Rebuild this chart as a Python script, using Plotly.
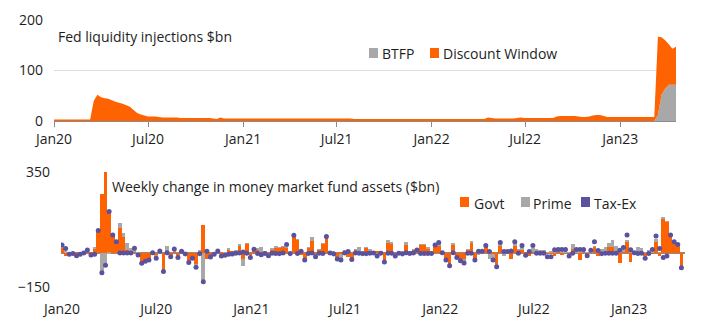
import pandas as pd
import plotly.graph_objects as go

# ---------------- data ----------------
top_dates = pd.date_range("2020-01-01", periods=173, freq="7D")
bot_dates = pd.date_range("2020-01-01", periods=172, freq="7D")

discount_window = (
    [3] * 11
    + [40, 52, 47, 45, 44, 41, 38, 36, 34, 31]
    + [28, 22, 16, 13, 11, 9, 9, 9, 8, 7]
    + [7, 7, 7, 7, 6, 6, 6, 6, 6, 6, 6, 6, 6]
    + [5, 4, 7, 5, 5, 5, 5, 5]
    + [5] * 31
    + [4] * 21
    + [4] * 16
    + [7, 6, 5, 5, 5, 5, 5, 5, 6, 7, 6]
    + [6, 6, 6, 6, 6, 6, 6, 6]
    + [9, 10, 10, 10, 10, 10, 9, 8, 8]
    + [9, 11, 12, 12, 10, 8]
    + [8] * 13
    + [155, 114, 96, 80, 71, 75]
)
btfp = [0] * 167 + [12, 52, 64, 72, 72, 72]

govt = [
    20, -15, -3, 2, -8, -4, 2, 6, -6, 18,
    90, 253, 350, 175, 72, 44, 105, 69, 10, 5,
    3, -8, -40, -30, -25, 2, -15, 2, -78, 3,
    -12, 2, -15, 2, -3, -38, -20, -50, 5, 120,
    -30, -14, -5, 3, -8, -5, 14, 3, 5, 30,
    -30, 38, -12, 8, 14, 4, 2, -5, 14, 22,
    20, 26, 20, 3, 70, 55, -12, -28, 20, 48,
    -12, 12, 38, 65, 2, 3, -22, -5, 3, -18,
    -25, 12, 4, 3, 20, 10, 2, 3, 2, -36,
    40, 40, -10, 2, 3, 33, 2, 12, 3, 33,
    33, 18, 2, 30, 30, 2, -30, -50, 35, -18,
    -32, -30, 12, 40, -28, 3, 2, 25, 2, -8,
    -50, 30, 2, 2, -30, 30, 12, 10, 2, -15,
    3, 3, 3, 2, -5, -5, -15, 3, -12, 2,
    -5, 15, 2, -33, 3, -12, 2, 25, -15, 2,
    2, 22, 22, 2, -45, 3, 47, -40, 2, 3,
    2, -15, 2, -8, 47, -15, 149, 134, 74, 38,
    25, -60,
]
prime = [
    3, 5, 2, -2, -2, -2, 1, 2, -2, 2,
    2, -82, -47, -5, 2, 1, 25, 17, 30, 15,
    10, 2, -3, -5, -3, 5, -5, 3, -2, 25,
    -3, 10, -3, 2, 1, -2, -2, -4, 2, -120,
    3, -2, 2, 2, -2, 2, 2, -2, 2, 3,
    -30, 2, -4, 2, 2, 18, 2, -3, 2, 2,
    3, 2, 3, 2, 3, 3, 2, -2, 2, 18,
    -2, 2, 2, 2, 2, 2, -2, -22, 10, 2,
    -2, 2, 18, 2, 2, 2, 2, -12, 2, -2,
    14, 2, -2, 2, 2, 14, 2, 2, 2, 2,
    3, 2, 2, 1, 10, 2, -2, -4, 2, -2,
    -2, -13, 2, 11, -2, -12, 2, 2, -28, -20,
    -2, 3, -15, 1, 2, 15, 2, 18, -10, 1,
    18, 14, 10, 8, 2, 8, 2, 3, 2, 2,
    2, 20, 4, 2, 2, 2, 2, 2, 2, 15,
    20, 18, 32, 28, 2, 4, 7, 2, 2, 22,
    16, 2, 10, 2, 10, 2, 2, 2, 1, 8,
    9, -2,
]
tax_ex = [
    10, 12, -5, -2, -4, -2, -2, 3, -3, -8,
    4, -6, -8, 3, 2, 2, -2, -2, -2, -2,
    5, -3, -4, -3, -5, -1, -5, 2, -3, -1,
    -3, 3, -4, 1, -3, -4, -3, -10, -5, -7,
    2, -4, -3, 2, -5, -7, -8, -5, -3, -2,
    2, -3, -6, 4, -4, -10, -4, -6, -3, -4,
    -5, -2, 12, -5, 2, -4, 3, -3, -4, -2,
    -4, -3, -4, 3, -2, -6, -4, -6, -2, 2,
    -3, -2, -3, -5, -5, -3, -2, -3, -3, -3,
    -3, -3, -3, -3, -6, -1, -4, -2, 6, -4,
    -4, -4, -4, 2, 3, -1, -1, -4, -1, -2,
    -2, -3, -3, -3, -3, 2, 1, 3, 2, -5,
    -10, 10, 2, 1, 4, 2, -3, 2, -2, 3,
    9, -3, -3, -3, -13, -13, 10, 7, 11, 9,
    -10, -3, 7, 11, 8, -2, 6, 20, 7, -5,
    -3, -3, -3, -3, 8, 15, 22, 10, -1, -4,
    -3, -10, -4, 11, 15, 15, -22, -15, 1, 1,
    1, -4,
]

top_yticks = [0, 100, 200]
bot_yticks = [-150, 350]
x_ticks = ["2020-01-01", "2020-07-01", "2021-01-01", "2021-07-01",
           "2022-01-01", "2022-07-01", "2023-01-01"]
x_ticktext = ["Jan20", "Jul20", "Jan21", "Jul21", "Jan22", "Jul22", "Jan23"]

# ---------------- styling ----------------
ORANGE = "#FF6200"
GREY = "#A8A8A8"
PURPLE = "#5A519F"
TXT = "#1E1E1E"
FONT = "Open Sans"
W, H = 717, 329

# Tax-Ex markers sit at the end of the (relative) stack
tax_pos = []
for g, p, t in zip(govt, prime, tax_ex):
    if t >= 0:
        tax_pos.append(max(g, 0) + max(p, 0) + t)
    else:
        tax_pos.append(min(g, 0) + min(p, 0) + t)

fig = go.Figure()
fig.add_trace(go.Scatter(x=top_dates, y=btfp, name="BTFP", stackgroup="a",
                         mode="none", fillcolor=GREY, xaxis="x", yaxis="y"))
fig.add_trace(go.Scatter(x=top_dates, y=discount_window, name="Discount Window",
                         stackgroup="a", mode="none", fillcolor=ORANGE,
                         xaxis="x", yaxis="y"))

fig.add_trace(go.Bar(x=bot_dates, y=govt, name="Govt", marker_color=ORANGE,
                     marker_line_width=0, xaxis="x2", yaxis="y2"))
fig.add_trace(go.Bar(x=bot_dates, y=prime, name="Prime", marker_color=GREY,
                     marker_line_width=0, xaxis="x2", yaxis="y2"))
fig.add_trace(go.Scatter(x=bot_dates, y=tax_pos, name="Tax-Ex", mode="markers",
                         marker=dict(color=PURPLE, size=5), customdata=tax_ex,
                         xaxis="x2", yaxis="y2"))

def px(x):
    return x / W

def py(y):
    return 1 - y / H

axis_font = dict(family=FONT, size=14, color=TXT)

fig.update_layout(
    width=W, height=H, margin=dict(l=0, r=0, t=0, b=0, autoexpand=False),
    paper_bgcolor="white", plot_bgcolor="white",
    showlegend=False, barmode="relative", bargap=0.0,
    font=dict(family=FONT, size=14, color=TXT),
    xaxis=dict(domain=[px(54), px(676)], range=["2020-01-01", "2023-04-19"],
               tickvals=x_ticks, ticktext=x_ticktext, tickfont=axis_font,
               showgrid=False, showline=True, linecolor="#8C8C8C", linewidth=1,
               ticks="outside", ticklen=5, tickcolor="#8C8C8C", anchor="y",
               zeroline=False, automargin=False),
    yaxis=dict(domain=[py(121), py(20)], range=[0, 200], tickvals=top_yticks,
               tickfont=axis_font, showgrid=True, gridcolor="#DCDCDC",
               zeroline=False, ticklabelstandoff=10, anchor="x",
               automargin=False),
    xaxis2=dict(domain=[px(61), px(685)], range=["2019-12-30", "2023-04-19"],
                tickvals=x_ticks, ticktext=x_ticktext, tickfont=axis_font,
                showgrid=False, showline=False, ticks="", anchor="y2",
                zeroline=False, automargin=False, ticklabelstandoff=12),
    yaxis2=dict(domain=[py(287), py(172)], range=[-150, 350], tickvals=bot_yticks,
                tickfont=axis_font, showgrid=True, gridcolor="#DCDCDC",
                zeroline=True, zerolinecolor="#8C8C8C", zerolinewidth=1.5,
                ticklabelstandoff=10, anchor="x2", automargin=False),
)

annos = [
    dict(text="Fed liquidity injections $bn", x=px(57), y=py(36)),
    dict(text="Weekly change in money market fund assets ($bn)", x=px(111), y=py(186)),
    dict(text="BTFP", x=px(381), y=py(53)),
    dict(text="Discount Window", x=px(442), y=py(53)),
    dict(text="Govt", x=px(473), y=py(203)),
    dict(text="Prime", x=px(532), y=py(203)),
    dict(text="Tax-Ex", x=px(593), y=py(203)),
]
for a in annos:
    fig.add_annotation(xref="paper", yref="paper", xanchor="left", yanchor="middle",
                       showarrow=False, font=dict(family=FONT, size=14, color=TXT),
                       borderpad=0, **a)

swatches = [(369, 48, GREY), (430, 48, ORANGE),
            (460, 197, ORANGE), (521, 197, GREY), (581, 197, PURPLE)]
for x0, y0, c in swatches:
    fig.add_shape(type="rect", xref="paper", yref="paper",
                  x0=px(x0), x1=px(x0 + 9), y0=py(y0 + 10), y1=py(y0),
                  fillcolor=c, line_width=0)

fig.write_html("out.html")
